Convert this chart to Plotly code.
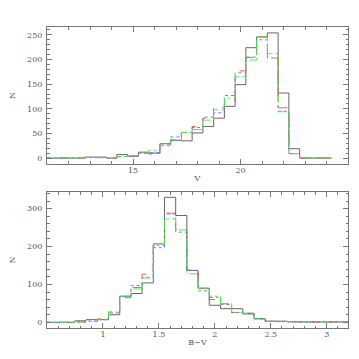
import plotly.graph_objects as go

# ---- data: V histogram (bin width 0.5) ----
v_centers = [11.0, 11.5, 12.0, 12.5, 13.0, 13.5, 14.0, 14.5, 15.0, 15.5, 16.0, 16.5, 17.0, 17.5,
             18.0, 18.5, 19.0, 19.5, 20.0, 20.5, 21.0, 21.5, 22.0, 22.5, 23.0, 23.5, 24.0]
v_black = [0, 0, 0, 0, 2, 2, 0, 7, 4, 12, 10, 29, 36, 35, 51, 64, 81, 105, 149, 224, 246, 254, 132, 19, 0, 0, 0]
v_red   = [0, 0, 0, 0, 1, 1, 0, 3, 4, 10, 8, 27, 38, 52, 64, 81, 102, 115, 177, 204, 246, 203, 102, 9, 0, 0, 0]
v_blue  = [0, 0, 0, 0, 1, 1, 1, 3, 4, 10, 11, 26, 43, 52, 62, 83, 92, 127, 173, 205, 240, 203, 95, 9, 0, 0, 0]
v_green = [0, 0, 0, 0, 1, 1, 1, 3, 5, 10, 16, 25, 37, 52, 58, 77, 98, 122, 165, 199, 246, 212, 94, 9, 0, 0, 0]
v_width = 0.5
v_ticks = [15, 20]

# ---- data: B-V histogram (bin width 0.1) ----
bv_centers = [0.5, 0.6, 0.7, 0.8, 0.9, 1.0, 1.1, 1.2, 1.3, 1.4, 1.5, 1.6, 1.7, 1.8, 1.9, 2.0,
              2.1, 2.2, 2.3, 2.4, 2.5, 2.6, 2.7, 2.8, 2.9, 3.0, 3.1, 3.2]
bv_black = [0, 0, 0, 4, 7, 7, 20, 69, 76, 104, 207, 330, 282, 137, 90, 45, 36, 36, 22, 10, 3, 3, 1, 1, 1, 1, 1, 1]
bv_red   = [0, 0, 0, 1, 3, 9, 27, 65, 92, 127, 200, 288, 244, 138, 90, 60, 49, 26, 24, 9, 3, 2, 2, 1, 1, 1, 1, 1]
bv_blue  = [0, 0, 0, 1, 3, 7, 25, 68, 97, 119, 197, 286, 238, 137, 83, 66, 47, 26, 24, 9, 3, 2, 2, 1, 1, 1, 1, 1]
bv_green = [0, 0, 0, 1, 2, 8, 27, 69, 88, 117, 203, 273, 244, 128, 89, 69, 49, 26, 24, 9, 3, 2, 2, 1, 1, 1, 1, 1]
bv_width = 0.1
bv_ticks = [1, 1.5, 2, 2.5, 3]


def steps(centers, counts, width):
    xs = [c - width / 2 for c in centers] + [centers[-1] + width / 2]
    ys = list(counts) + [counts[-1]]
    return xs, ys


styles = [
    ("black", "#666666", "solid", 1.0),
    ("red", "#ff4a4a", "dash", 0.9),
    ("blue", "#6a6aff", "dot", 0.9),
    ("green", "#3cf03c", "dashdot", 0.9),
]

fig = go.Figure()
for (name, col, dash, w), vals in zip(styles, [v_black, v_red, v_blue, v_green]):
    xs, ys = steps(v_centers, vals, v_width)
    fig.add_trace(go.Scatter(x=xs, y=ys, mode="lines", line=dict(shape="hv", color=col, dash=dash, width=w),
                             xaxis="x", yaxis="y", showlegend=False))
for (name, col, dash, w), vals in zip(styles, [bv_black, bv_red, bv_blue, bv_green]):
    xs, ys = steps(bv_centers, vals, bv_width)
    fig.add_trace(go.Scatter(x=xs, y=ys, mode="lines", line=dict(shape="hv", color=col, dash=dash, width=w),
                             xaxis="x2", yaxis="y2", showlegend=False))

font = dict(family="DejaVu Serif", size=8, color="#555555")
axcommon = dict(showgrid=False, zeroline=False, showline=True, linecolor="#777777", linewidth=1,
                mirror="allticks", ticks="inside", ticklen=5, tickcolor="#777777", tickwidth=1,
                tickfont=font, automargin=False)
minor_common = dict(ticks="inside", ticklen=2.5, tickcolor="#777777")

fig.update_layout(
    width=359, height=359,
    margin=dict(l=39, r=19, t=19, b=39),
    paper_bgcolor="white", plot_bgcolor="white",
    font=font,
    xaxis=dict(domain=[0, 1], anchor="y", range=[11, 25], tickvals=v_ticks, ticklabelstandoff=-2,
               minor=dict(dtick=1, tick0=0, **minor_common),
               title=dict(text="V", font=font, standoff=1), **axcommon),
    yaxis=dict(domain=[0.5449, 1.0], anchor="x", range=[-12, 266], dtick=50, tick0=0, ticklabelstandoff=2,
               minor=dict(dtick=10, tick0=0, **minor_common),
               title=dict(text="N", font=font, standoff=12), **axcommon),
    xaxis2=dict(domain=[0, 1], anchor="y2", range=[0.5, 3.19], tickvals=bv_ticks, ticklabelstandoff=-2,
                minor=dict(dtick=0.1, tick0=0, **minor_common),
                title=dict(text="B\u2212V", font=font, standoff=1), **axcommon),
    yaxis2=dict(domain=[0, 0.4518], anchor="x2", range=[-15, 344], dtick=100, tick0=0, ticklabelstandoff=2,
                minor=dict(dtick=20, tick0=0, **minor_common),
                title=dict(text="N", font=font, standoff=12), **axcommon),
)

fig.write_html("out.html")
